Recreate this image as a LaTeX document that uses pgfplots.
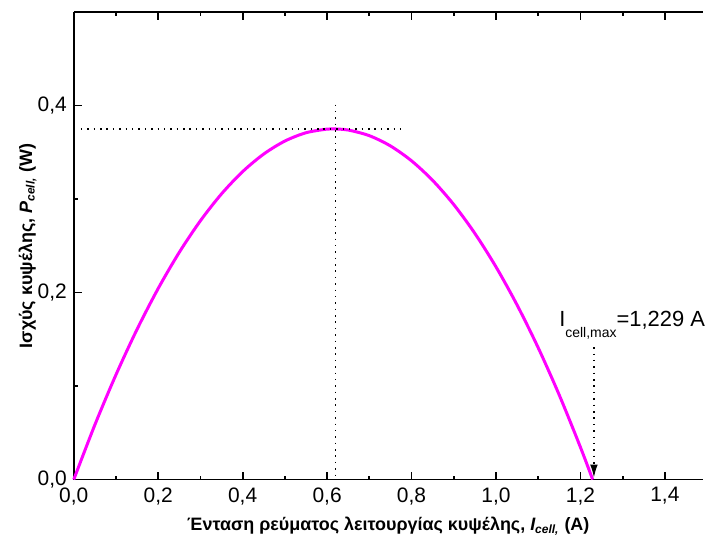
\documentclass[border=0pt]{standalone}
\usepackage{fontspec}
\setmainfont{Liberation Sans}
\usepackage{pgfplots}
\pgfplotsset{compat=1.18}
\usetikzlibrary{arrows.meta,calc}
\definecolor{curvemag}{RGB}{255,0,255}

\pgfplotstableread{
I      P
0.000  0.00000
0.050  0.05854
0.100  0.11211
0.150  0.16072
0.200  0.20436
0.250  0.24304
0.300  0.27675
0.350  0.30550
0.400  0.32928
0.450  0.34810
0.500  0.36195
0.550  0.37084
0.600  0.37476
0.6145 0.37497
0.650  0.37372
0.700  0.36771
0.750  0.35674
0.800  0.34080
0.850  0.31989
0.900  0.29403
0.950  0.26319
1.000  0.22740
1.050  0.18663
1.100  0.14091
1.150  0.09021
1.200  0.03456
1.229  0.00000
}\powertab

\begin{document}
\begin{tikzpicture}
\begin{axis}[
  name=ax,
  scale only axis,
  width=315.5pt, height=234.5pt,
  xmin=0, xmax=1.49,
  ymin=0, ymax=0.5,
  axis x line*=box,
  axis y line*=left,
  axis line style={line width=0.9pt},
  xtick={0,0.2,...,1.4},
  ytick={0,0.2,0.4},
  minor x tick num=1,
  minor y tick num=1,
  tick align=inside,
  major tick length=4pt,
  minor tick length=2pt,
  tick style={line width=0.9pt, black},
  /pgf/number format/assume math mode=true,
  /pgf/number format/.cd, fixed, fixed zerofill, precision=1, use comma,
  /pgfplots/.cd,
  tick label style={font=\fontsize{10.5}{12}\selectfont},
  xticklabel style={yshift=-0.5pt},
  yticklabel style={xshift=0pt},
  xlabel={\bfseries Ένταση ρεύματος λειτουργίας κυψέλης, {\itshape I}\textsubscript{\itshape cell,} (A)},
  ylabel={\bfseries Ισχύς κυψέλης, {\itshape P}\textsubscript{\itshape cell,} (W)},
  label style={font=\fontsize{9}{10}\selectfont},
  xlabel style={at={(axis description cs:0.5,-0.1002)}, anchor=center},
  ylabel style={at={(axis description cs:-0.0735,0.5)}, anchor=center},
  clip=false,
]
\addplot[color=curvemag, line width=1.5pt, smooth, tension=0.5] table[x=I, y=P] {\powertab};

\draw[line width=0.75pt, dash pattern=on 0.75pt off 2.45pt] (axis cs:0.017,0.375) -- (axis cs:0.778,0.375);
\draw[line width=0.75pt, dash pattern=on 0.75pt off 2.45pt] (axis cs:0.62,0.401) -- (axis cs:0.62,0);
\draw[line width=0.75pt, dash pattern=on 0.75pt off 2.45pt, -{Latex[length=6.5pt,width=3.8pt]}]
  (axis cs:1.232,0.1415) -- (axis cs:1.232,0.002);

\node[anchor=base west, inner sep=0pt, font=\fontsize{11}{13}\selectfont]
  at (axis cs:1.149,0.1638)
  {I\raisebox{-1.0ex}{\fontsize{7}{8}\selectfont cell,max}=1,229 A};
\end{axis}
\path ($(ax.south west)+(-37pt,-32pt)$) rectangle ($(ax.north east)+(0pt,6pt)$);
\end{tikzpicture}
\end{document}
